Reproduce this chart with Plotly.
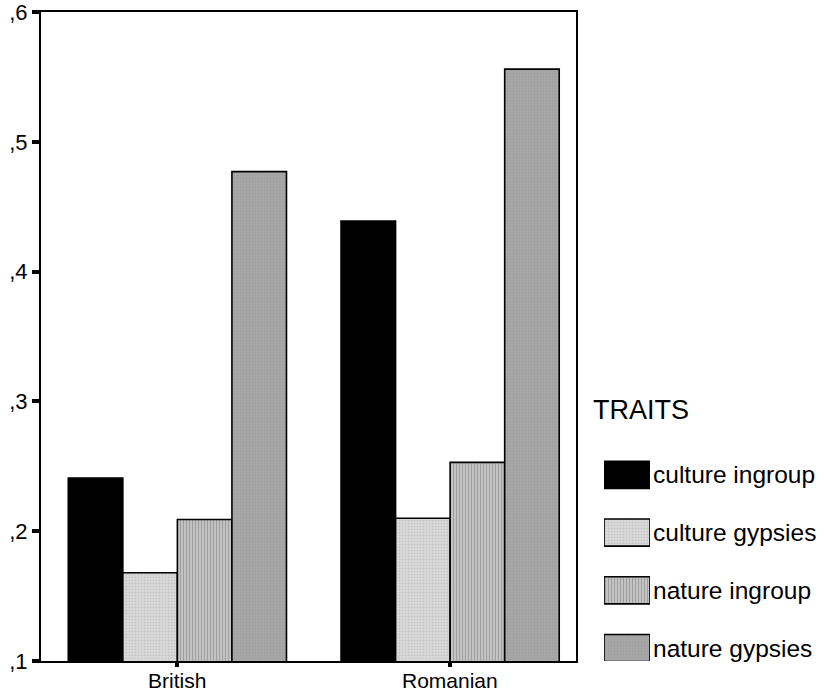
import plotly.graph_objects as go

# ---- data ----
categories = ["British", "Romanian"]
series_names = ["culture ingroup", "culture gypsies", "nature ingroup", "nature gypsies"]
culture_ingroup = [0.241, 0.439]
culture_gypsies = [0.168, 0.210]
nature_ingroup = [0.209, 0.253]
nature_gypsies = [0.477, 0.556]
y_tick_vals = [0.1, 0.2, 0.3, 0.4, 0.5, 0.6]
y_tick_text = [",1", ",2", ",3", ",4", ",5", ",6"]
legend_title = "TRAITS"

series_values = [culture_ingroup, culture_gypsies, nature_ingroup, nature_gypsies]

# ---- styles ----
FONT = "Liberation Sans, Arial, sans-serif"
patterns = [
    dict(shape="", bgcolor="#000000", fgcolor="#000000"),
    dict(shape=".", bgcolor="#dadada", fgcolor="#b0b0b0", size=3, solidity=0.35),
    dict(shape="|", bgcolor="#cfcfcf", fgcolor="#6e6e6e", size=3, solidity=0.5),
    dict(shape=".", bgcolor="#a8a8a8", fgcolor="#959595", size=3, solidity=0.35),
]

fig = go.Figure()

for name, vals, pat in zip(series_names, series_values, patterns):
    fig.add_trace(go.Bar(
        x=categories, y=vals, name=name,
        marker=dict(color=pat["bgcolor"], pattern=pat,
                    line=dict(color="black", width=1.6)),
        showlegend=False, xaxis="x", yaxis="y",
    ))

# category labels under the axis (as annotations so they sit fully inside the page)
for cat in categories:
    fig.add_annotation(x=cat, y=0, xref="x", yref="paper", text=cat,
                       showarrow=False, xanchor="center", yanchor="top",
                       yshift=-6, font=dict(family=FONT, size=21, color="black"))

# legend swatches drawn as a small hidden bar subplot
n = len(series_names)
for i, (name, pat) in enumerate(zip(series_names, patterns)):
    pos = n - 1 - i
    fig.add_trace(go.Bar(
        x=[1], y=[pos], orientation="h", width=0.47, name=name,
        marker=dict(color=pat["bgcolor"], pattern=pat,
                    line=dict(color="black", width=1.6)),
        showlegend=False, xaxis="x2", yaxis="y2", hoverinfo="skip",
    ))
    fig.add_annotation(x=1, y=pos, xref="x2", yref="y2", text=name,
                       showarrow=False, xanchor="left", yanchor="middle",
                       xshift=1, font=dict(family=FONT, size=24.5, color="black"))

fig.add_annotation(x=0.703, y=0.387, xref="paper", yref="paper", text=legend_title,
                   showarrow=False, xanchor="left", yanchor="middle",
                   font=dict(family=FONT, size=27, color="black"))

fig.update_layout(
    width=824, height=694, autosize=False,
    margin=dict(l=41, r=0, t=12, b=33, autoexpand=False),
    paper_bgcolor="white", plot_bgcolor="white",
    barmode="group", bargap=0.2, bargroupgap=0,
    font=dict(family=FONT, color="black"),
    xaxis=dict(domain=[0, 535 / 783], range=[-0.5, 1.4615],
               showline=True, linecolor="black", linewidth=2, mirror=True,
               ticks="outside", ticklen=4, tickwidth=4, tickcolor="black",
               showticklabels=False, automargin=False,
               showgrid=False, zeroline=False),
    yaxis=dict(domain=[0, 1], range=[0.1, 0.6],
               tickvals=y_tick_vals, ticktext=y_tick_text,
               showline=True, linecolor="black", linewidth=2, mirror=True,
               ticks="outside", ticklen=7, tickwidth=4, tickcolor="black",
               tickfont=dict(family=FONT, size=22, color="black"),
               ticklabeloverflow="allow", automargin=False,
               showgrid=False, zeroline=False),
    xaxis2=dict(domain=[563 / 783, 609 / 783], range=[0, 1], visible=False,
                anchor="y2"),
    yaxis2=dict(domain=[0, 215 / 649], range=[-0.225, 3.5], visible=False,
                anchor="x2"),
)

# remove the default 8px page margin so the figure fills the window exactly
fig.write_html("out.html",
               config={"displayModeBar": False},
               post_script="document.body.style.margin='0';document.body.style.overflow='hidden';")
